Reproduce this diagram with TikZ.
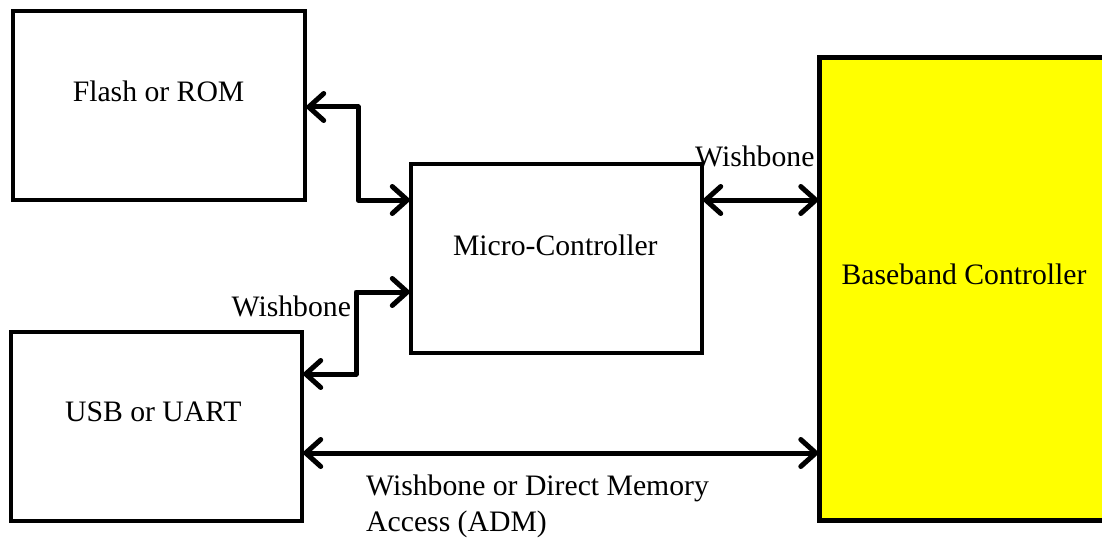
\documentclass[tikz,border=0pt]{standalone}
\usepackage{fontspec}
\setmainfont{Liberation Serif}
\usetikzlibrary{arrows.meta}
\definecolor{bbyellow}{RGB}{255,255,0}
\begin{document}
\begin{tikzpicture}[x=1pt,y=-1pt,
  font=\fontsize{29.7}{36}\selectfont,
  block/.style={draw=black,line width=4.5pt,rectangle,inner sep=0pt,outer sep=0pt,anchor=north west},
  txt/.style={anchor=base,inner sep=0pt},
  link/.style={line width=5pt,line join=round,
    {Straight Barb[length=15pt,width=27pt,line cap=round]}-{Straight Barb[length=15pt,width=27pt,line cap=round]}}]
\useasboundingbox (0,0) rectangle (1102,540);

% blocks
\node[block,minimum width=292pt,minimum height=189pt] (flash) at (13,11) {};
\node[block,minimum width=291pt,minimum height=189pt] (mcu) at (411,164) {};
\node[block,minimum width=291pt,minimum height=189pt] (usb) at (11,332) {};
\node[block,fill=bbyellow,minimum width=330pt,minimum height=463pt] (bb) at (819.5,57.5) {};

% block titles
\node[txt] (tflash) at (158.6,101.7) {Flash or ROM};
\node[txt] (tmcu) at (555.3,255) {Micro-Controller};
\node[txt] (tusb) at (153.3,421.7) {USB or UART};
\node[txt] (tbb) at (964,284.3) {Baseband Controller};

% connectors
\coordinate (f1) at (flash.east |- 0,107);
\coordinate (m1) at (mcu.west |- 0,200);
\draw[link] (f1) -| (358,200) -- (m1);

\coordinate (m2) at (mcu.west |- 0,292);
\coordinate (u1) at (usb.east |- 0,374);
\draw[link] (m2) -| (356,374) -- (u1);

\coordinate (m3) at (mcu.east |- 0,200);
\coordinate (b1) at (bb.west |- 0,200);
\draw[link] (m3) -- (b1);

\coordinate (u2) at (usb.east |- 0,453);
\coordinate (b2) at (bb.west |- 0,453);
\draw[link] (u2) -- (b2);

% bus labels
\node[anchor=base west,inner sep=0pt] (w1) at (695,167) {Wishbone};
\node[anchor=base west,inner sep=0pt] (w2) at (231.5,316.7) {Wishbone};
\node[anchor=base west,inner sep=0pt] (w3) at (366,495) {Wishbone or Direct Memory};
\node[anchor=base west,inner sep=0pt] (w4) at (366,531) {Access (ADM)};
\end{tikzpicture}
\end{document}
